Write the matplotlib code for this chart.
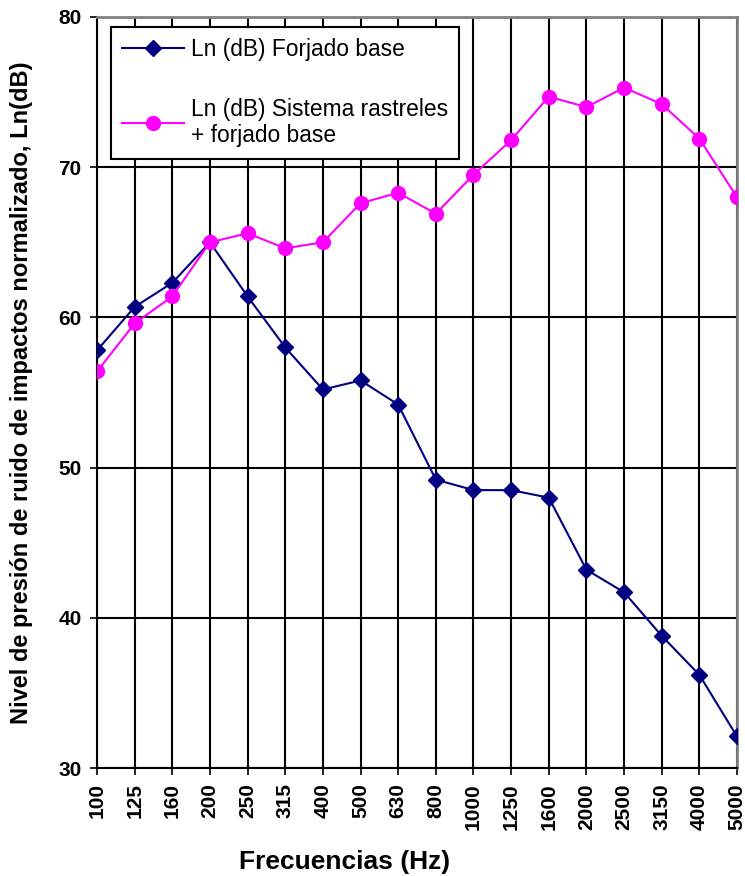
import matplotlib
matplotlib.use('Agg')
import matplotlib.pyplot as plt

# Bandas de tercio de octava
frecuencias = ['100', '125', '160', '200', '250', '315', '400', '500', '630', '800',
               '1000', '1250', '1600', '2000', '2500', '3150', '4000', '5000']

# Ln (dB) forjado base
ln_forjado = [57.8, 60.7, 62.3, 65.0, 61.4, 58.0, 55.2, 55.8, 54.2, 49.2,
              48.5, 48.5, 48.0, 43.2, 41.7, 38.8, 36.2, 32.1]

# Ln (dB) sistema rastreles + forjado base
ln_rastreles = [56.4, 59.6, 61.4, 65.0, 65.6, 64.6, 65.0, 67.6, 68.3, 66.9,
                69.5, 71.8, 74.7, 74.0, 75.3, 74.2, 71.9, 68.0]

plt.rcParams['font.family'] = ['Liberation Sans', 'DejaVu Sans']

fig = plt.figure(figsize=(7.45, 8.76), dpi=100)
ax = fig.add_axes([97 / 745, 108 / 876, 640 / 745, 751 / 876])

x = list(range(len(frecuencias)))
ax.plot(x, ln_forjado, '-D', color='#000080', lw=1.5, ms=8.5,
        label='Ln (dB) Forjado base', zorder=3)
ax.plot(x, ln_rastreles, '-o', color='#FF00FF', lw=1.5, ms=10,
        label='Ln (dB) Sistema rastreles\n+ forjado base', zorder=3)

ax.set_xlim(0, len(frecuencias) - 1)
ax.set_ylim(30, 80)
ax.set_xticks(x)
ax.set_xticklabels(frecuencias, rotation=90, fontsize=15, fontweight='bold')
ax.set_yticks([30, 40, 50, 60, 70, 80])
ax.set_yticklabels(['30', '40', '50', '60', '70', '80'], fontsize=15, fontweight='bold')
ax.tick_params(direction='out', length=5, width=1.2, pad=6)

ax.grid(True, color='black', lw=1.5)
ax.set_axisbelow(True)
for s in ['left', 'bottom']:
    ax.spines[s].set_linewidth(1.5)
for s in ['top', 'right']:
    ax.spines[s].set_color('gray')
    ax.spines[s].set_linewidth(2)

ax.set_ylabel('Nivel de presión de ruido de impactos normalizado, Ln(dB)',
              fontsize=17, fontweight='bold')
ax.yaxis.set_label_coords((33 - 97) / 640, 0.5)
fig.text(345 / 745, 1 - 862 / 876, 'Frecuencias (Hz)', fontsize=19,
         fontweight='bold', ha='center', va='center')

leg = ax.legend(loc='upper left', bbox_to_anchor=(0.022, 0.987), borderaxespad=0,
                fontsize=16.4, frameon=True, fancybox=False, edgecolor='black',
                framealpha=1, handlelength=2.7, handletextpad=0.3,
                labelspacing=1.6, borderpad=0.5)
leg.get_frame().set_linewidth(1.5)

fig.savefig('out.png', dpi=100)
